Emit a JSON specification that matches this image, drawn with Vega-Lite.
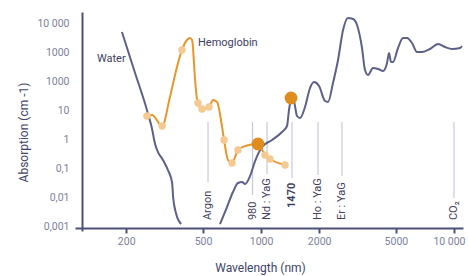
{
  "$schema": "https://vega.github.io/schema/vega-lite/v6.json",
  "width": 388,
  "height": 219,
  "autosize": "none",
  "padding": {"left": 75, "top": 12, "right": 5, "bottom": 45},
  "background": "white",
  "config": {"view": {"stroke": null}, "font": "Roboto"},
  "datasets": {
    "lasers": [
      {"label": "Argon", "wl": 531, "abs": 3.86, "abs2": 0.0329},
      {"label": "980", "wl": 903, "abs": 3.86, "abs2": 0.0117},
      {"label": "Nd : YaG", "wl": 1074, "abs": 3.86, "abs2": 0.062},
      {"label": "1470", "wl": 1447, "abs": 3.86, "abs2": 0.045},
      {"label": "Ho : YaG", "wl": 1974, "abs": 3.86, "abs2": 0.057},
      {"label": "Er : YaG", "wl": 2628, "abs": 3.86, "abs2": 0.053},
      {"label": "CO₂", "wl": 10007, "abs": 3.86, "abs2": 0.0092}
    ],
    "laserLabels": [
      {"label": "Argon", "wl": 531, "abs": 0.0016, "bold": "n"},
      {"label": "980", "wl": 903, "abs": 0.0016, "bold": "n"},
      {"label": "Nd : YaG", "wl": 1074, "abs": 0.0016, "bold": "n"},
      {"label": "1470", "wl": 1447, "abs": 0.0042, "bold": "y"},
      {"label": "Ho : YaG", "wl": 1974, "abs": 0.0016, "bold": "n"},
      {"label": "Er : YaG", "wl": 2628, "abs": 0.0016, "bold": "n"},
      {"label": "CO₂", "wl": 10007, "abs": 0.0016, "bold": "n"}
    ],
    "water": [
      {"seg": "a", "wl": 190, "abs": 4900},
      {"seg": "a", "wl": 222, "abs": 193},
      {"seg": "a", "wl": 256, "abs": 10},
      {"seg": "a", "wl": 275, "abs": 1.61},
      {"seg": "a", "wl": 279, "abs": 0.92},
      {"seg": "a", "wl": 289, "abs": 0.418},
      {"seg": "a", "wl": 310, "abs": 0.189},
      {"seg": "a", "wl": 329, "abs": 0.0853},
      {"seg": "a", "wl": 346, "abs": 0.0304},
      {"seg": "a", "wl": 350, "abs": 0.01},
      {"seg": "a", "wl": 362, "abs": 0.0028},
      {"seg": "a", "wl": 385, "abs": 0.00117},
      {"seg": "b", "wl": 613, "abs": 0.00117},
      {"seg": "b", "wl": 666, "abs": 0.00452},
      {"seg": "b", "wl": 715, "abs": 0.0149},
      {"seg": "b", "wl": 759, "abs": 0.0304},
      {"seg": "b", "wl": 797, "abs": 0.0329},
      {"seg": "b", "wl": 826, "abs": 0.0281},
      {"seg": "b", "wl": 877, "abs": 0.053},
      {"seg": "b", "wl": 931, "abs": 0.174},
      {"seg": "b", "wl": 1012, "abs": 0.53},
      {"seg": "b", "wl": 1140, "abs": 0.924},
      {"seg": "b", "wl": 1284, "abs": 1.74},
      {"seg": "b", "wl": 1363, "abs": 2.81},
      {"seg": "b", "wl": 1396, "abs": 10},
      {"seg": "b", "wl": 1430, "abs": 22.1},
      {"seg": "b", "wl": 1482, "abs": 18.9},
      {"seg": "b", "wl": 1536, "abs": 6.21},
      {"seg": "b", "wl": 1592, "abs": 5.3},
      {"seg": "b", "wl": 1690, "abs": 12.7},
      {"seg": "b", "wl": 1794, "abs": 57.4},
      {"seg": "b", "wl": 1882, "abs": 92.4},
      {"seg": "b", "wl": 1998, "abs": 67.3},
      {"seg": "b", "wl": 2146, "abs": 20.4},
      {"seg": "b", "wl": 2224, "abs": 18.9},
      {"seg": "b", "wl": 2360, "abs": 85.4},
      {"seg": "b", "wl": 2506, "abs": 530},
      {"seg": "b", "wl": 2661, "abs": 5741},
      {"seg": "b", "wl": 2824, "abs": 14860},
      {"seg": "b", "wl": 2998, "abs": 13730},
      {"seg": "b", "wl": 3144, "abs": 8530},
      {"seg": "b", "wl": 3337, "abs": 1374},
      {"seg": "b", "wl": 3458, "abs": 239},
      {"seg": "b", "wl": 3585, "abs": 161},
      {"seg": "b", "wl": 3806, "abs": 281},
      {"seg": "b", "wl": 4041, "abs": 259},
      {"seg": "b", "wl": 4289, "abs": 221},
      {"seg": "b", "wl": 4498, "abs": 418},
      {"seg": "b", "wl": 4607, "abs": 924},
      {"seg": "b", "wl": 4718, "abs": 452},
      {"seg": "b", "wl": 4832, "abs": 452},
      {"seg": "b", "wl": 5129, "abs": 1374},
      {"seg": "b", "wl": 5444, "abs": 3039},
      {"seg": "b", "wl": 5710, "abs": 3039},
      {"seg": "b", "wl": 6062, "abs": 2045},
      {"seg": "b", "wl": 6434, "abs": 1000},
      {"seg": "b", "wl": 6830, "abs": 1000},
      {"seg": "b", "wl": 7514, "abs": 1269},
      {"seg": "b", "wl": 8265, "abs": 1888},
      {"seg": "b", "wl": 8986, "abs": 1486},
      {"seg": "b", "wl": 9770, "abs": 1269},
      {"seg": "b", "wl": 10750, "abs": 1374},
      {"seg": "b", "wl": 11010, "abs": 1611}
    ],
    "hemo": [
      {"wl": 256, "abs": 6.21},
      {"wl": 272, "abs": 6.72},
      {"wl": 307, "abs": 2.81},
      {"wl": 337, "abs": 28.1},
      {"wl": 371, "abs": 418},
      {"wl": 389, "abs": 1172},
      {"wl": 413, "abs": 2592},
      {"wl": 428, "abs": 3039},
      {"wl": 439, "abs": 2592},
      {"wl": 455, "abs": 108},
      {"wl": 466, "abs": 22.1},
      {"wl": 471, "abs": 17.4},
      {"wl": 494, "abs": 10.8},
      {"wl": 537, "abs": 12.7},
      {"wl": 564, "abs": 22.1},
      {"wl": 591, "abs": 18.9},
      {"wl": 628, "abs": 2.59},
      {"wl": 643, "abs": 0.924},
      {"wl": 674, "abs": 0.189},
      {"wl": 707, "abs": 0.149},
      {"wl": 759, "abs": 0.418},
      {"wl": 826, "abs": 0.574},
      {"wl": 964, "abs": 0.673},
      {"wl": 1048, "abs": 0.281},
      {"wl": 1113, "abs": 0.204},
      {"wl": 1331, "abs": 0.127}
    ],
    "samples": [
      {"wl": 256, "abs": 6.21, "kind": "s"},
      {"wl": 307, "abs": 2.81, "kind": "s"},
      {"wl": 389, "abs": 1172, "kind": "s"},
      {"wl": 471, "abs": 17.4, "kind": "s"},
      {"wl": 494, "abs": 10.8, "kind": "s"},
      {"wl": 537, "abs": 12.7, "kind": "s"},
      {"wl": 643, "abs": 0.924, "kind": "s"},
      {"wl": 707, "abs": 0.149, "kind": "s"},
      {"wl": 759, "abs": 0.418, "kind": "s"},
      {"wl": 1048, "abs": 0.281, "kind": "s"},
      {"wl": 1113, "abs": 0.204, "kind": "s"},
      {"wl": 1331, "abs": 0.127, "kind": "s"},
      {"wl": 964, "abs": 0.673, "kind": "big"},
      {"wl": 1430, "abs": 25.9, "kind": "big"}
    ],
    "names": [
      {"name": "Water", "wl": 141, "abs": 574},
      {"name": "Hemoglobin", "wl": 471, "abs": 2040}
    ]
  },
  "encoding": {
    "x": {
      "field": "wl", "type": "quantitative",
      "scale": {"type": "log", "domain": [108.5, 11140], "nice": false},
      "axis": {
        "values": [200, 500, 1000, 2000, 5000, 10000],
        "labelExpr": "datum.value == 10000 ? '10 000' : format(datum.value, 'd')",
        "title": "Wavelength (nm)",
        "offset": -3,
        "grid": false,
        "domainColor": "#4d5179", "domainWidth": 2,
        "tickColor": "#4d5179", "tickWidth": 2, "tickSize": 5,
        "labelPadding": 3, "labelColor": "#7b7f9e", "labelFontSize": 10.5, "labelFont": "Roboto",
        "labelOffset": {"condition": {"test": "datum.value == 10000", "value": -5}, "value": 0},
        "labelOverlap": false, "labelFlush": false,
        "titleFont": "Roboto", "titleFontWeight": "normal", "titleFontSize": 12, "titleColor": "#40446a",
        "titleX": 185, "titleY": 39, "titleBaseline": "middle", "titleAlign": "center"
      }
    },
    "y": {
      "field": "abs", "type": "quantitative",
      "scale": {"type": "log", "domain": [0.000673, 23950], "nice": false},
      "axis": {
        "values": [0.001, 0.01, 0.1, 1, 10, 100, 1000, 10000],
        "labelExpr": "datum.value < 0.005 ? '0,001' : datum.value < 0.05 ? '0,01' : datum.value < 0.5 ? '0,1' : datum.value < 5 ? '1' : datum.value < 50 ? '10' : datum.value < 5000 ? '1000' : '10 000'",
        "title": "Absorption (cm -1)",
        "offset": -7,
        "grid": false, "ticks": false,
        "domainColor": "#4d5179", "domainWidth": 2,
        "labelPadding": 13, "labelColor": "#7b7f9e", "labelFontSize": 10.5, "labelFont": "Roboto",
        "labelOverlap": false,
        "titleFont": "Roboto", "titleFontWeight": "normal", "titleFontSize": 12, "titleColor": "#40446a",
        "titleX": -59, "titleY": 120, "titleBaseline": "middle", "titleAlign": "center", "titleAngle": 270
      }
    }
  },
  "layer": [
    {
      "data": {"name": "lasers"},
      "mark": {"type": "rule", "color": "#c6c9db", "strokeWidth": 1.2},
      "encoding": {"y2": {"field": "abs2"}}
    },
    {
      "data": {"name": "water"},
      "mark": {"type": "line", "interpolate": "monotone", "color": "#5d6089", "strokeWidth": 2},
      "encoding": {"detail": {"field": "seg"}}
    },
    {
      "data": {"name": "hemo"},
      "mark": {"type": "line", "interpolate": "monotone", "color": "#e8962b", "strokeWidth": 2},
      "encoding": {}
    },
    {
      "data": {"name": "samples"},
      "transform": [{"filter": "datum.kind == 's'"}],
      "mark": {"type": "circle", "color": "#f5c992", "opacity": 1, "size": 55}
    },
    {
      "data": {"name": "samples"},
      "transform": [{"filter": "datum.kind == 'big'"}],
      "mark": {"type": "circle", "color": "#e08d20", "opacity": 1, "size": 165}
    },
    {
      "data": {"name": "laserLabels"},
      "transform": [{"filter": "datum.bold == 'n'"}],
      "mark": {"type": "text", "angle": 270, "align": "left", "baseline": "middle", "font": "Roboto", "fontSize": 11, "color": "#3f4260"},
      "encoding": {"text": {"field": "label"}}
    },
    {
      "data": {"name": "laserLabels"},
      "transform": [{"filter": "datum.bold == 'y'"}],
      "mark": {"type": "text", "angle": 270, "align": "left", "baseline": "middle", "font": "Roboto", "fontSize": 11, "fontWeight": "bold", "color": "#3f4260"},
      "encoding": {"text": {"field": "label"}}
    },
    {
      "data": {"name": "names"},
      "mark": {"type": "text", "align": "left", "baseline": "middle", "font": "Roboto", "fontSize": 11, "color": "#3d405e"},
      "encoding": {"text": {"field": "name"}}
    }
  ]
}
